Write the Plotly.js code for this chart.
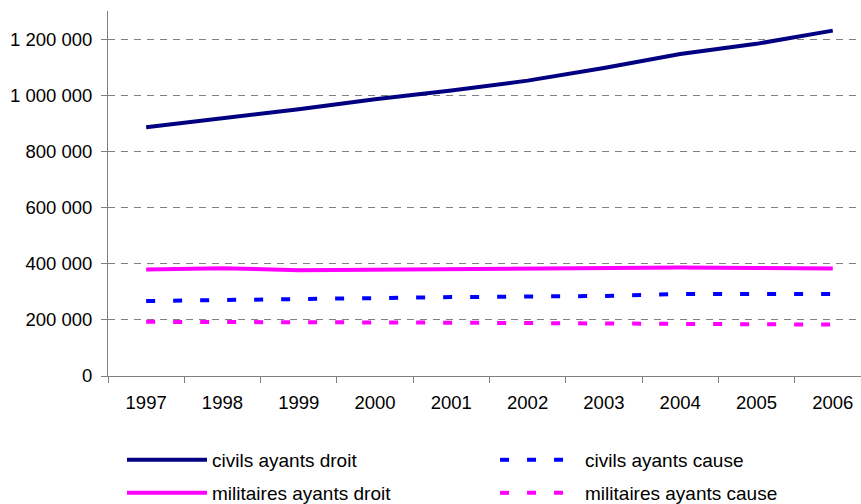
<!DOCTYPE html>
<html>
<head>
<meta charset="utf-8">
<script src="https://cdn.plot.ly/plotly-3.0.1.min.js"></script>
<style>
  html, body { margin: 0; padding: 0; background: #fff; overflow: hidden; }
  #chart { width: 861px; height: 504px; }
</style>
</head>
<body>
<div id="chart"></div>
<script>
const years = ["1997", "1998", "1999", "2000", "2001", "2002", "2003", "2004", "2005", "2006"];
const civilsAyantsDroit = [886000, 918000, 950000, 986000, 1017000, 1052000, 1097000, 1147000, 1183000, 1230000];
const militairesAyantsDroit = [379000, 384000, 377000, 379000, 382000, 384000, 384000, 386000, 385000, 383000];
const civilsAyantsCause = [267000, 271000, 273000, 277000, 281000, 283000, 285000, 292000, 291000, 292000];
const militairesAyantsCause = [193000, 193000, 190000, 190000, 190000, 188500, 187500, 188500, 184000, 183000];
const seriesNames = ["civils ayants droit", "militaires ayants droit", "civils ayants cause", "militaires ayants cause"];

const FONT = "Liberation Sans, Arial, sans-serif";

const traces = [
  { x: years, y: civilsAyantsDroit, name: seriesNames[0], type: "scatter", mode: "lines",
    line: { color: "#000080", width: 4 }, legend: "legend" },
  { x: years, y: militairesAyantsDroit, name: seriesNames[1], type: "scatter", mode: "lines",
    line: { color: "#FF00FF", width: 4 }, legend: "legend2" },
  { x: years, y: civilsAyantsCause, name: seriesNames[2], type: "scatter", mode: "lines",
    line: { color: "#0000FF", width: 4, dash: "9px,18px" }, legend: "legend3" },
  { x: years, y: militairesAyantsCause, name: seriesNames[3], type: "scatter", mode: "lines",
    line: { color: "#FF00FF", width: 4, dash: "9px,18px" }, legend: "legend4" }
];

function leg(x, y) {
  return { x: x, y: y, xanchor: "left", yanchor: "middle", orientation: "v",
    bgcolor: "rgba(0,0,0,0)", borderwidth: 0, itemwidth: 80,
    font: { family: FONT, size: 19, color: "#000" } };
}

const layout = {
  width: 861, height: 504,
  margin: { l: 108, r: 0, t: 11, b: 128, autoexpand: false },
  paper_bgcolor: "#fff", plot_bgcolor: "#fff",
  font: { family: FONT, size: 18, color: "#000" },
  separators: ", ",
  showlegend: true,
  xaxis: {
    type: "category",
    range: [-0.5, 9.37],
    showgrid: false, zeroline: false,
    showline: true, linecolor: "#808080", linewidth: 1,
    ticks: "outside", tickson: "boundaries", ticklen: 6, tickcolor: "#808080", tickwidth: 1,
    ticklabelstandoff: 10,
    tickfont: { family: FONT, size: 18.5, color: "#000" },
    fixedrange: true
  },
  yaxis: {
    range: [0, 1300000],
    tickvals: [0, 200000, 400000, 600000, 800000, 1000000, 1200000],
    tickformat: ",d",
    showgrid: true, gridcolor: "#808080", gridwidth: 1, griddash: "7px,6px",
    zeroline: false,
    showline: true, linecolor: "#808080", linewidth: 1,
    ticks: "outside", ticklen: 6, tickcolor: "#808080", tickwidth: 1,
    ticklabelstandoff: 5,
    tickfont: { family: FONT, size: 18.5, color: "#000" },
    fixedrange: true
  },
  legend: leg(0.0186, -0.230),
  legend2: leg(0.0186, -0.3205),
  legend3: leg(0.514, -0.230),
  legend4: leg(0.514, -0.3205)
};

Plotly.newPlot("chart", traces, layout, { staticPlot: true, displayModeBar: false });
</script>
</body>
</html>
